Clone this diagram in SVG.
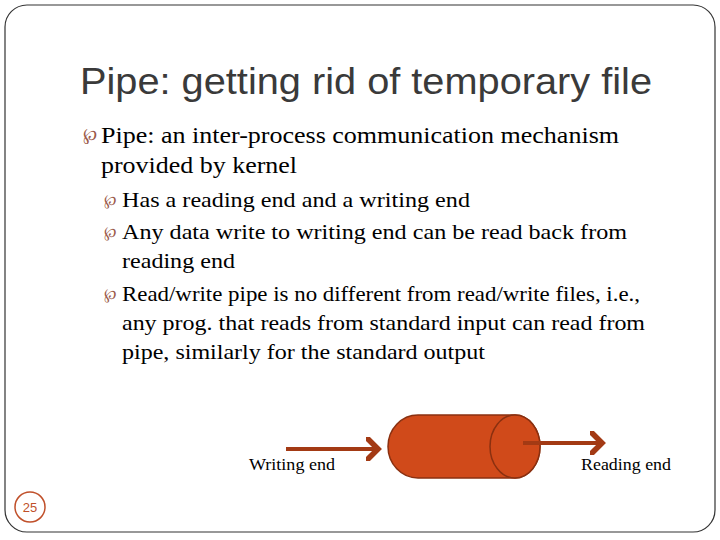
<svg xmlns="http://www.w3.org/2000/svg" width="720" height="540" viewBox="0 0 720 540">
<style>
.t{font-family:"Liberation Serif","Times New Roman",serif;fill:#000}
.b{font-family:"DejaVu Serif",serif;fill:#9b5a4a}
.ar{stroke:#a33a14;stroke-width:4;fill:none}
</style>
<defs><marker id="ah" markerWidth="6" markerHeight="6" refX="3" refY="3" orient="auto" markerUnits="strokeWidth"><path d="M0,0 L3,3 L0,6" stroke="#a33a14" stroke-width="1.4" fill="none"/></marker></defs>
<rect x="5" y="5" width="710" height="527" rx="22" fill="#fff" stroke="#333" stroke-width="1.2"/>
<text x="80" y="94" font-family="Liberation Sans,sans-serif" font-size="37" fill="#3a3a3a" textLength="572" lengthAdjust="spacingAndGlyphs">Pipe: getting rid of temporary file</text>
<text class="b" x="83" y="140" font-size="17">℘</text>
<text class="t" x="101" y="143" font-size="24" textLength="518" lengthAdjust="spacingAndGlyphs">Pipe: an inter-process communication mechanism</text>
<text class="t" x="101" y="173" font-size="24" textLength="196" lengthAdjust="spacingAndGlyphs">provided by kernel</text>
<text class="b" x="104" y="205" font-size="15">℘</text>
<text class="t" x="122" y="207" font-size="21" textLength="348" lengthAdjust="spacingAndGlyphs">Has a reading end and a writing end</text>
<text class="b" x="104" y="237" font-size="15">℘</text>
<text class="t" x="122" y="239" font-size="21" textLength="505" lengthAdjust="spacingAndGlyphs">Any data write to writing end can be read back from</text>
<text class="t" x="122" y="268" font-size="21" textLength="113" lengthAdjust="spacingAndGlyphs">reading end</text>
<text class="b" x="104" y="299" font-size="15">℘</text>
<text class="t" x="122" y="301" font-size="21" textLength="518" lengthAdjust="spacingAndGlyphs">Read/write pipe is no different from read/write files, i.e.,</text>
<text class="t" x="122" y="330" font-size="21" textLength="523" lengthAdjust="spacingAndGlyphs">any prog. that reads from standard input can read from</text>
<text class="t" x="122" y="359" font-size="21" textLength="363" lengthAdjust="spacingAndGlyphs">pipe, similarly for the standard output</text>
<g id="pipe">
<path d="M418,415 L515,415 A25,31.5 0 0 1 515,478 L418,478 A30,31.5 0 0 1 418,415 Z" fill="#d04a1a" stroke="#8a3010" stroke-width="1.5"/>
<ellipse cx="515" cy="446.5" rx="25" ry="31.5" fill="#d04a1a" stroke="#8a3010" stroke-width="1.5"/>
</g>
<g id="connectors">
<line class="ar" x1="286" y1="449" x2="378" y2="449" marker-end="url(#ah)"/>
<line class="ar" x1="523" y1="443" x2="602" y2="443" marker-end="url(#ah)"/>
</g>
<text class="t" x="249" y="470" font-size="17" textLength="86" lengthAdjust="spacingAndGlyphs">Writing end</text>
<text class="t" x="581" y="470" font-size="17" textLength="90" lengthAdjust="spacingAndGlyphs">Reading end</text>
<circle cx="30" cy="507" r="15" fill="#fff" stroke="#c0502a" stroke-width="1.5"/>
<text x="30" y="512" text-anchor="middle" font-family="Liberation Sans,sans-serif" font-size="13" fill="#c0502a">25</text>
</svg>
